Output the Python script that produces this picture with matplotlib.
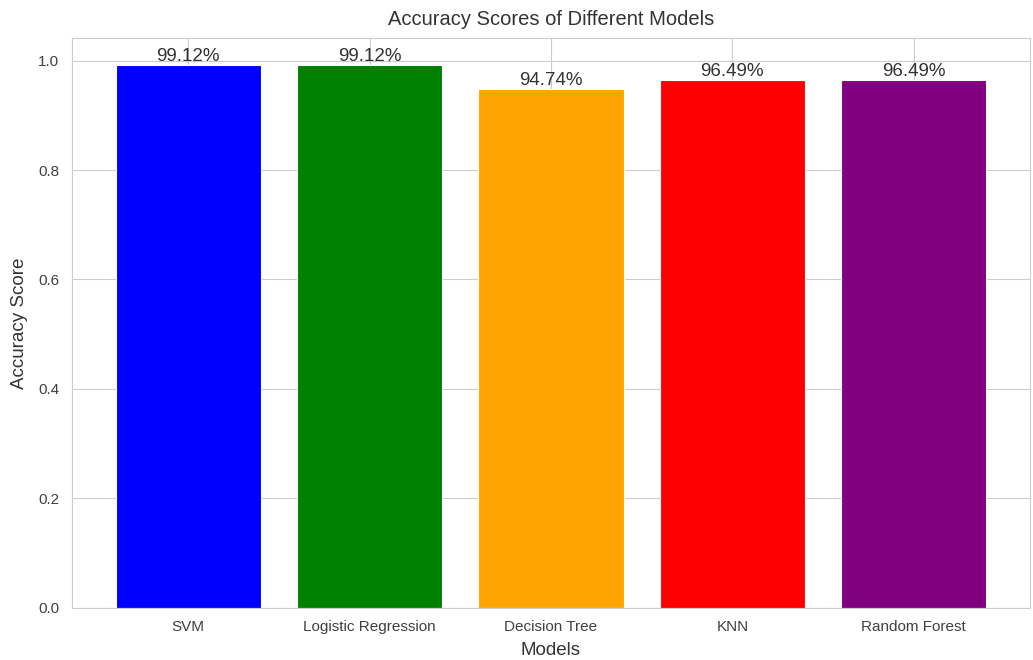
import matplotlib
matplotlib.use("Agg")
import matplotlib.pyplot as plt
import seaborn as sns

models = ["SVM", "Logistic Regression", "Decision Tree", "KNN", "Random Forest"]
scores = [0.9912, 0.9912, 0.9474, 0.9649, 0.9649]
colors = ["blue", "green", "orange", "red", "purple"]

sns.set_style("whitegrid")
plt.rcParams["font.family"] = ["Liberation Sans", "DejaVu Sans"]

fig = plt.figure(figsize=(10.33, 6.6), dpi=100)
ax = fig.add_axes([0.0697, 0.079, 0.9273, 0.863])

bars = ax.bar(models, scores, color=colors, edgecolor="white", linewidth=0.8)
for bar, s in zip(bars, scores):
    ax.text(bar.get_x() + bar.get_width() / 2, bar.get_height(),
            "{:.2f}%".format(s * 100), ha="center", va="bottom",
            fontsize=13.5, color=".2")

ax.set_title("Accuracy Scores of Different Models", fontsize=14.5, color=".2", pad=9.5)
ax.set_xlabel("Models", fontsize=13.5, color=".2", labelpad=6)
ax.set_ylabel("Accuracy Score", fontsize=13.5, color=".2", labelpad=7.5)
ax.tick_params(axis="x", labelsize=11, colors=".25", pad=5)
ax.tick_params(axis="y", labelsize=11, colors=".25", pad=5.7)
ax.xaxis.grid(True)

fig.savefig("out.png")
